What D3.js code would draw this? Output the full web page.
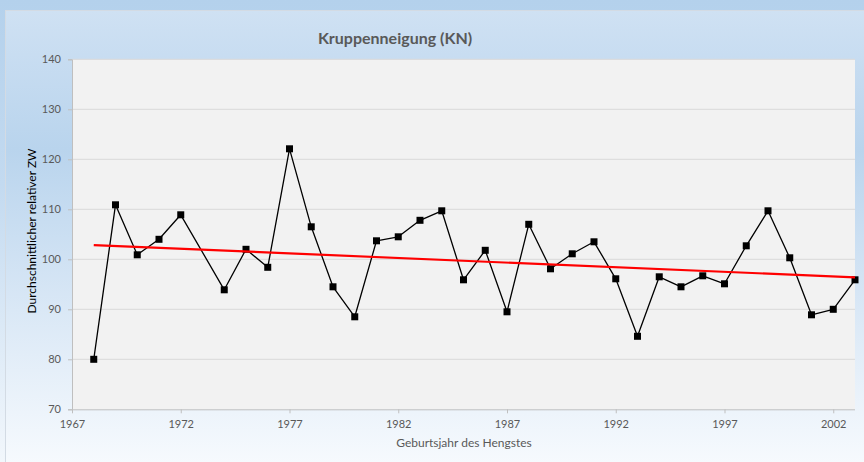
<!DOCTYPE html>
<html>
<head>
<meta charset="utf-8">
<script src="https://cdn.jsdelivr.net/npm/d3@7"></script>
<style>
  body { margin: 0; padding: 0; overflow: hidden; }
  svg { display: block; font-family: Lato, "Open Sans", sans-serif; }
</style>
</head>
<body>
<svg id="chart" width="864" height="462"></svg>
<script>
// Kruppenneigung (KN): mean relative breeding value per birth year of stallion
var years = [1968, 1969, 1970, 1971, 1972, 1974, 1975, 1976, 1977, 1978, 1979, 1980,
             1981, 1982, 1983, 1984, 1985, 1986, 1987, 1988, 1989, 1990, 1991, 1992,
             1993, 1994, 1995, 1996, 1997, 1998, 1999, 2000, 2001, 2002, 2003];
var values = [80, 110.9, 100.9, 104, 108.9, 93.9, 102, 98.4, 122.1, 106.5, 94.5, 88.5,
              103.7, 104.5, 107.8, 109.7, 95.9, 101.8, 89.5, 107, 98.1, 101.1, 103.5, 96.1,
              84.6, 96.5, 94.5, 96.7, 95.1, 102.7, 109.7, 100.3, 88.9, 90, 95.9];
var xTicks = [1967, 1972, 1977, 1982, 1987, 1992, 1997, 2002];
var yTicks = [70, 80, 90, 100, 110, 120, 130, 140];

var chartTitle = "Kruppenneigung (KN)";
var xTitle = "Geburtsjahr des Hengstes";
var yTitle = "Durchschnittlicher relativer ZW";

var W = 864, H = 462;
var plot = {left: 72, right: 855, top: 59.3, bottom: 409.3};

var svg = d3.select("#chart");
var defs = svg.append("defs");

var bgGrad = defs.append("linearGradient").attr("id", "bgGrad")
    .attr("x1", 0).attr("y1", 0).attr("x2", 0).attr("y2", 1);
bgGrad.append("stop").attr("offset", "0%").attr("stop-color", "#b4d1ec");
bgGrad.append("stop").attr("offset", "40%").attr("stop-color", "#c3daf0");
bgGrad.append("stop").attr("offset", "100%").attr("stop-color", "#f2f7fc");

var boxGrad = defs.append("linearGradient").attr("id", "boxGrad")
    .attr("x1", 0).attr("y1", 0).attr("x2", 0).attr("y2", 1);
boxGrad.append("stop").attr("offset", "0%").attr("stop-color", "#cfe1f3");
boxGrad.append("stop").attr("offset", "30%").attr("stop-color", "#b9d4ed");
boxGrad.append("stop").attr("offset", "65%").attr("stop-color", "#dae8f6");
boxGrad.append("stop").attr("offset", "100%").attr("stop-color", "#f8fbfe");

// backgrounds
svg.append("rect").attr("width", W).attr("height", H).attr("fill", "url(#bgGrad)");
svg.append("rect").attr("x", 5.5).attr("y", 10.5).attr("width", W).attr("height", H)
    .attr("fill", "url(#boxGrad)").attr("stroke", "#d3dbe4").attr("stroke-width", 1);

svg.append("rect")
    .attr("x", plot.left).attr("y", plot.top)
    .attr("width", plot.right - plot.left).attr("height", plot.bottom - plot.top)
    .attr("fill", "#f2f2f2");

// scales
var x = d3.scaleLinear().domain([1967, 2003]).range([plot.left, plot.right]);
var y = d3.scaleLinear().domain([70, 140]).range([plot.bottom, plot.top]);

// gridlines
svg.append("g").selectAll("line").data(yTicks.filter(function(t){ return t > 70; }))
    .enter().append("line")
    .attr("x1", plot.left).attr("x2", plot.right)
    .attr("y1", function(d){ return y(d); }).attr("y2", function(d){ return y(d); })
    .attr("stroke", "#d9d9d9").attr("stroke-width", 1);

// axes
var yAxis = svg.append("g")
    .attr("transform", "translate(" + plot.left + ",0)")
    .call(d3.axisLeft(y).tickValues(yTicks).tickSize(4).tickPadding(7).tickFormat(d3.format("d")));
var xAxis = svg.append("g")
    .attr("transform", "translate(0," + plot.bottom + ")")
    .call(d3.axisBottom(x).tickValues(xTicks).tickSize(4).tickPadding(7).tickFormat(d3.format("d")));

[xAxis, yAxis].forEach(function(a) {
    a.select(".domain").attr("stroke", "#bfbfbf");
    a.selectAll(".tick line").attr("stroke", "#bfbfbf");
    a.selectAll(".tick text").attr("fill", "#595959").style("font-size", "11px")
        .style("font-family", "Lato, 'Open Sans', sans-serif");
});
xAxis.select(".domain").attr("d", "M" + plot.left + ",0.5H" + plot.right);

// trend line (least squares on data)
var n = years.length;
var mx = d3.mean(years), my = d3.mean(values);
var sxy = 0, sxx = 0;
for (var i = 0; i < n; i++) {
    sxy += (years[i] - mx) * (values[i] - my);
    sxx += (years[i] - mx) * (years[i] - mx);
}
var slope = sxy / sxx, intercept = my - slope * mx;
var x0 = d3.min(years), x1 = d3.max(years);

// data line
var pts = years.map(function(d, i){ return {year: d, value: values[i]}; });
var line = d3.line().x(function(d){ return x(d.year); }).y(function(d){ return y(d.value); });

svg.append("path").datum(pts)
    .attr("d", line)
    .attr("fill", "none").attr("stroke", "#000").attr("stroke-width", 1.3)
    .attr("stroke-linejoin", "round");

svg.selectAll(".dot").data(pts).enter().append("rect")
    .attr("class", "dot")
    .attr("x", function(d){ return x(d.year) - 3.5; })
    .attr("y", function(d){ return y(d.value) - 3.5; })
    .attr("width", 7).attr("height", 7)
    .attr("fill", "#000");

svg.append("line")
    .attr("x1", x(x0)).attr("y1", y(intercept + slope * x0))
    .attr("x2", x(x1)).attr("y2", y(intercept + slope * x1))
    .attr("stroke", "#ff0000").attr("stroke-width", 2.2);

// titles
svg.append("text")
    .attr("x", 395).attr("y", 44)
    .attr("text-anchor", "middle")
    .attr("font-weight", "bold")
    .style("font-size", "16px")
    .attr("fill", "#595959")
    .text(chartTitle);

svg.append("text")
    .attr("x", 464).attr("y", 447)
    .attr("text-anchor", "middle")
    .style("font-size", "12px")
    .attr("fill", "#595959")
    .text(xTitle);

svg.append("text")
    .attr("transform", "translate(36,231) rotate(-90)")
    .attr("text-anchor", "middle")
    .style("font-size", "12px")
    .attr("fill", "#000")
    .text(yTitle);
</script>
</body>
</html>
